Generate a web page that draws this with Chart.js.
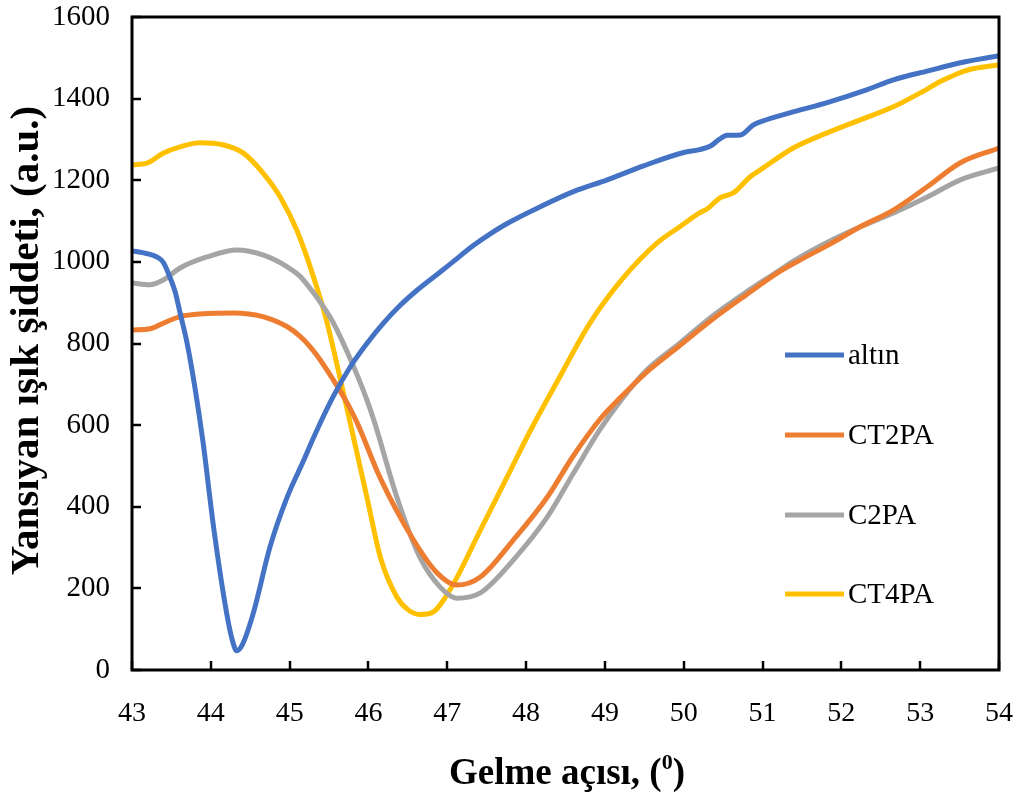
<!DOCTYPE html>
<html>
<head>
<meta charset="utf-8">
<script src="https://cdn.jsdelivr.net/npm/chart.js@4.4.1/dist/chart.umd.min.js"></script>
<style>
  body { margin: 0; background: #fff; }
  #wrap { width: 1019px; height: 794px; }
</style>
</head>
<body>
<div id="wrap"><canvas id="chart" width="1019" height="794"></canvas></div>
<script>
// x/y values
const altinX = [43.0, 43.15, 43.27, 43.35, 43.4, 43.48, 43.55, 43.61, 43.7, 43.8, 43.9, 44.04, 44.2, 44.27, 44.33, 44.4, 44.54, 44.75, 44.97, 45.17, 45.3, 45.55, 45.77, 46.0, 46.19, 46.4, 46.62, 46.91, 47.04, 47.33, 47.54, 47.76, 48.18, 48.6, 49.03, 49.5, 50.0, 50.2, 50.34, 50.45, 50.55, 50.72, 50.88, 50.97, 51.4, 51.82, 52.3, 52.66, 53.1, 53.51, 54.0];
const altinY = [1027, 1022, 1016, 1008, 998, 963, 925, 875, 800, 690, 560, 343, 140, 75, 47, 62, 140, 301, 424, 510, 568, 669, 743, 805, 850, 893, 931, 975, 995, 1040, 1068, 1094, 1135, 1172, 1201, 1236, 1268, 1275, 1284, 1300, 1310, 1311, 1335, 1343, 1368, 1390, 1420, 1446, 1468, 1488, 1505];

const ct2paX = [43.0, 43.23, 43.4, 43.61, 43.9, 44.28, 44.66, 44.97, 45.13, 45.26, 45.35, 45.55, 45.77, 45.87, 46.15, 46.57, 46.87, 47.12, 47.42, 47.84, 48.27, 48.6, 48.94, 49.2, 49.53, 49.95, 50.37, 50.8, 51.18, 51.48, 51.85, 52.24, 52.66, 53.09, 53.51, 54.0];
const ct2paY = [833, 836, 850, 866, 873, 875, 866, 841, 818, 792, 770, 712, 640, 600, 470, 319, 238, 208, 228, 319, 424, 525, 615, 668, 730, 795, 860, 920, 972, 1005, 1043, 1086, 1127, 1184, 1243, 1279];

const c2paX = [43.0, 43.23, 43.4, 43.61, 43.95, 44.33, 44.66, 44.97, 45.13, 45.22, 45.35, 45.55, 45.77, 45.98, 46.08, 46.36, 46.65, 46.91, 47.12, 47.42, 47.84, 48.27, 48.6, 48.94, 49.2, 49.53, 49.95, 50.37, 50.8, 51.18, 51.39, 51.8, 52.24, 52.66, 53.09, 53.51, 54.0];
const c2paY = [948, 944, 956, 985, 1012, 1029, 1017, 988, 965, 945, 912, 852, 762, 662, 605, 424, 277, 203, 176, 189, 270, 375, 482, 590, 660, 735, 801, 868, 927, 975, 1002, 1046, 1086, 1120, 1159, 1201, 1230];

const ct4paX = [43.0, 43.19, 43.4, 43.61, 43.86, 44.15, 44.41, 44.66, 44.88, 45.09, 45.3, 45.47, 45.64, 45.81, 45.98, 46.15, 46.36, 46.5, 46.65, 46.8, 46.87, 47.07, 47.42, 47.76, 48.05, 48.39, 48.81, 49.23, 49.66, 49.95, 50.2, 50.3, 50.46, 50.63, 50.84, 50.97, 51.39, 51.82, 52.24, 52.66, 53.0, 53.3, 53.6, 54.0];
const ct4paY = [1238, 1242, 1267, 1282, 1292, 1287, 1267, 1218, 1159, 1078, 965, 855, 715, 570, 424, 277, 179, 148, 136, 140, 150, 208, 343, 473, 585, 705, 850, 960, 1046, 1086, 1120, 1130, 1157, 1169, 1208, 1225, 1279, 1316, 1348, 1380, 1414, 1446, 1470, 1483];

const seriesNames = ['altın', 'CT2PA', 'C2PA', 'CT4PA'];
const seriesColors = ['#4472C4', '#ED7D31', '#A5A5A5', '#FFC000'];
const xTicks = [43, 44, 45, 46, 47, 48, 49, 50, 51, 52, 53, 54];
const yTicks = [0, 200, 400, 600, 800, 1000, 1200, 1400, 1600];

const xTitle = 'Gelme açısı, (';
const xTitleSup = '0';
const yTitle = 'Yansıyan ışık şiddeti, (a.u.)';

const serif = '"Liberation Serif", "Times New Roman", serif';

function toPoints(xs, ys) {
  return xs.map((x, i) => ({ x: x, y: ys[i] }));
}

const allX = [altinX, ct2paX, c2paX, ct4paX];
const allY = [altinY, ct2paY, c2paY, ct4paY];

// 枠・内向き目盛り・軸タイトル・凡例
const framePlugin = {
  id: 'frame',
  afterDraw: (chart) => {
    const ctx = chart.ctx;
    const a = chart.chartArea;
    const xs = chart.scales.x;
    const ys = chart.scales.y;
    ctx.save();

    // inward tick marks
    ctx.strokeStyle = '#000';
    ctx.lineWidth = 2.5;
    xTicks.forEach(v => {
      const px = Math.round(xs.getPixelForValue(v));
      ctx.beginPath();
      ctx.moveTo(px, a.bottom);
      ctx.lineTo(px, a.bottom - 9);
      ctx.stroke();
    });
    yTicks.forEach(v => {
      const py = Math.round(ys.getPixelForValue(v));
      ctx.beginPath();
      ctx.moveTo(a.left, py);
      ctx.lineTo(a.left + 9, py);
      ctx.stroke();
    });

    // box
    ctx.lineWidth = 3;
    ctx.strokeRect(a.left, a.top, a.right - a.left, a.bottom - a.top);

    // y title
    ctx.fillStyle = '#000';
    ctx.font = `bold 41px ${serif}`;
    ctx.textAlign = 'center';
    ctx.textBaseline = 'middle';
    ctx.translate(27, (a.top + a.bottom) / 2 - 3);
    ctx.rotate(-Math.PI / 2);
    ctx.fillText(yTitle, 0, 0);
    ctx.setTransform(1, 0, 0, 1, 0, 0);

    // x title with superscript
    ctx.font = `bold 37px ${serif}`;
    const w1 = ctx.measureText(xTitle).width;
    ctx.font = `bold 22px ${serif}`;
    const w2 = ctx.measureText(xTitleSup).width;
    ctx.font = `bold 37px ${serif}`;
    const w3 = ctx.measureText(')').width;
    const total = w1 + w2 + w3;
    let x0 = 567 - total / 2;
    const yb = 784;
    ctx.textAlign = 'left';
    ctx.textBaseline = 'alphabetic';
    ctx.fillText(xTitle, x0, yb);
    ctx.font = `bold 22px ${serif}`;
    ctx.fillText(xTitleSup, x0 + w1, yb - 15);
    ctx.font = `bold 37px ${serif}`;
    ctx.fillText(')', x0 + w1 + w2, yb);

    // legend
    const rows = [355, 435, 515, 594];
    ctx.font = `29px ${serif}`;
    ctx.textBaseline = 'middle';
    chart.data.datasets.forEach((ds, i) => {
      ctx.strokeStyle = ds.borderColor;
      ctx.lineWidth = 5;
      ctx.beginPath();
      ctx.moveTo(785, rows[i]);
      ctx.lineTo(844, rows[i]);
      ctx.stroke();
      ctx.fillStyle = '#000';
      ctx.fillText(ds.label, 848, rows[i] + 1);
    });
    ctx.restore();
  }
};

const ctx = document.getElementById('chart').getContext('2d');
new Chart(ctx, {
  type: 'line',
  data: {
    datasets: seriesNames.map((name, i) => ({
      label: name,
      data: toPoints(allX[i], allY[i]),
      borderColor: seriesColors[i],
      backgroundColor: seriesColors[i],
      borderWidth: 5,
      pointRadius: 0,
      cubicInterpolationMode: 'monotone',
      fill: false
    }))
  },
  options: {
    responsive: false,
    animation: false,
    layout: { padding: { left: 0, right: 20, top: 17, bottom: 0 } },
    plugins: {
      legend: { display: false },
      tooltip: { enabled: false }
    },
    scales: {
      x: {
        type: 'linear',
        min: 43,
        max: 54,
        afterBuildTicks: (scale) => { scale.ticks = xTicks.map(v => ({ value: v })); },
        afterFit: (scale) => {
          scale.height = 124;
          scale.paddingLeft = 0;
          scale.paddingRight = 0;
        },
        grid: { display: false, drawTicks: false },
        border: { display: false },
        ticks: {
          color: '#000',
          padding: 27,
          maxRotation: 0,
          font: { family: serif, size: 28 },
          callback: (v) => String(v)
        }
      },
      y: {
        type: 'linear',
        min: 0,
        max: 1600,
        afterBuildTicks: (scale) => { scale.ticks = yTicks.map(v => ({ value: v })); },
        afterFit: (scale) => {
          scale.width = 132;
          scale.paddingTop = 0;
          scale.paddingBottom = 0;
        },
        grid: { display: false, drawTicks: false },
        border: { display: false },
        ticks: {
          color: '#000',
          padding: 22,
          font: { family: serif, size: 29 },
          callback: (v) => String(v)
        }
      }
    }
  },
  plugins: [framePlugin]
});
</script>
</body>
</html>
